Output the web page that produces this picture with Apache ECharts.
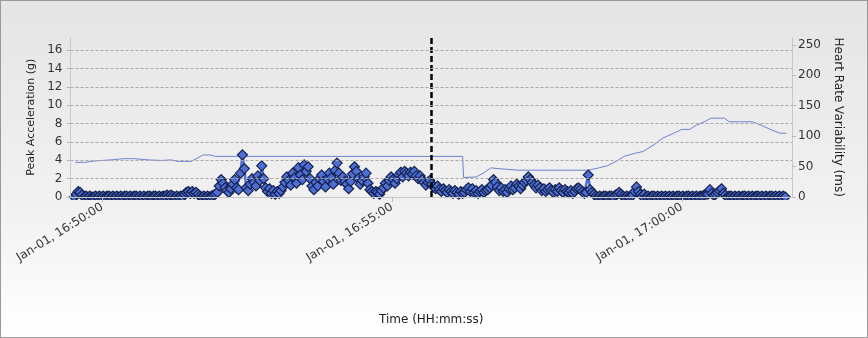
<!DOCTYPE html>
<html>
<head>
<meta charset="utf-8">
<script src="https://cdn.jsdelivr.net/npm/echarts@6/dist/echarts.min.js"></script>
<style>
html,body{margin:0;padding:0;background:#fff;}
#c{width:868px;height:338px;box-sizing:border-box;border:1px solid #9a9a9a;}
</style>
</head>
<body>
<div id="c"></div>
<script>
// Time base: seconds relative to Jan-01 16:50:00
const baseLabel = 'Jan-01';
const accelStart = -29;      // first sample (s)
const accelStep = 2;         // sampling interval (s)
// Peak acceleration (g), one value per sample
const peakAccel = [
 0.0,0.3,0.6,0.5,0.2,
 0.0,0.1,0.0,0.1,0.0,0.0,0.1,0.0,0.1,0.0, 0.1,0.0,0.1,0.1,0.0,0.1,0.0,0.1,0.0,0.1,
 0.0,0.1,0.1,0.0,0.1,0.0,0.1,0.1,0.0,0.1, 0.0,0.1,0.0,0.1,0.1,0.0,0.1,0.1,0.0,0.1,
 0.0,0.1,0.1,0.2,0.1,0.2,0.1,0.0,0.1,0.0, 0.1,0.0,
 0.3,0.5,0.6,0.4,0.6,0.4,0.5,0.3,0.1,
 0.0,0.1,0.0,0.1,0.0,0.1,0.2,0.3,
 0.5,1.2,1.9,1.5,1.0,0.7,0.5,0.9,1.4,1.9,
 1.0,0.8,2.6,4.6,3.1,1.0,0.7,1.4,2.0,1.6,
 1.2,2.3,1.8,3.4,2.0,1.0,0.6,0.9,0.4,0.7,
 0.3,0.6,0.4,0.7,1.1,1.6,2.2,1.8,1.3,2.6,
 2.1,1.5,3.2,2.4,1.9,3.5,2.8,3.3,2.0,1.2,
 0.8,1.6,1.2,2.0,2.4,1.7,1.1,2.0,2.6,2.1,
 1.4,2.9,3.7,2.6,1.8,2.2,1.7,1.4,0.9,1.7,
 2.5,3.3,2.8,2.0,1.4,1.8,2.2,2.6,1.5,0.8,
 0.6,0.4,0.6,0.5,0.3,0.7,1.0,1.5,1.2,1.8,
 2.2,1.9,1.5,2.0,2.4,2.7,2.2,2.8,2.6,2.3,
 2.7,2.5,2.8,2.3,2.0,2.3,1.9,1.6,1.3,1.6,
 1.8,1.4,
 1.1,0.9,1.2,0.8,0.6,0.9,0.7,0.5,0.8,0.6,0.4,0.7,0.5,0.3,0.6,0.4,0.5,0.8,1.0,
 0.6,0.9,0.5,0.7,0.4,0.6,0.8,0.5,0.7,0.8,1.0,1.3,1.9,1.6,1.1,
 0.7,1.0,0.6,0.8,0.5,0.9,1.2,0.8,1.0,1.4,
 1.2,0.9,1.3,1.6,1.8,2.2,1.9,1.6,1.3,1.0,
 1.3,1.0,0.7,0.9,0.6,0.8,1.0,0.7,0.5,0.8,
 0.6,1.0,0.7,0.5,0.8,0.6,
 0.5,0.7,0.4,0.6,0.9,1.0,0.8,0.6,0.4,0.5,2.4,0.8,0.5,
 0.3,0.1,0.0,0.1,0.0,0.1,0.1,0.0,0.1,0.1,0.0,0.2,0.3,
 0.5,0.3,0.1,0.0,0.1,0.0,0.1,0.2,
 0.6,1.1,0.6,0.3,0.1,0.3,
 0.0,0.1,0.0,0.1,0.1,0.0,0.1,0.0,0.1,0.0, 0.1,0.0,0.1,0.0,0.1,0.0,0.1,0.1,0.0,0.1,
 0.0,0.1,0.1,0.0,0.1,0.0,0.1,0.0,0.1,0.1, 0.2,0.3,
 0.3,0.8,0.4,0.2,0.3,0.5,0.7,0.9,0.4,0.2,
 0.0,0.1,0.1,0.0,0.1,0.0,0.1,0.0,0.1,0.1, 0.0,0.1,0.0,0.1,0.0,0.1,0.1,0.0,0.1,0.0,
 0.1,0.0,0.1,0.1,0.0,0.1,0.0,0.1,0.0,0.1, 0.0
];
// Heart rate variability (ms) breakpoints
const hrvTimes = [-28,-17,-12,-1,9,22,33,47,61,71,78,92,99,104,112,117,373,374,387,395,402,415,431,503,514,523,532,540,552,560,573,580,590,600,608,615,625,630,644,649,673,682,693,702,708];
const hrvValues = [57,57,58.5,60,61,63,63,61,60,61,58.5,58.5,64.5,69,69,66.7,66.7,32,33,39.7,47.8,46,44,44,47.8,51.5,58.5,66.7,72,74.8,88,96.6,103.6,111,111,118,125,129.5,129.5,123.6,123.6,118,110,104.7,104.7];
// Event marker time (s)
const markerTime = 340;
// Axis ticks
const xTickSeconds = [0, 300, 600];
const xMin = -33, xMax = 714;

function fmt(t){
  const total = 16*3600 + 50*60 + t;
  const h = Math.floor(total/3600), m = Math.floor((total%3600)/60), s = total%60;
  const p = n => String(n).padStart(2,'0');
  return baseLabel + ', ' + p(h) + ':' + p(m) + ':' + p(s);
}

const accelData = peakAccel.map((v,i)=>[accelStart + i*accelStep, v]);
const hrvData = hrvTimes.map((t,i)=>[t, hrvValues[i]]);

const font = 'DejaVu Sans';
const chart = echarts.init(document.getElementById('c'));
chart.setOption({
  animation:false,
  backgroundColor:{type:'linear',x:0,y:0,x2:0,y2:1,colorStops:[
    {offset:0,color:'#e5e5e5'},{offset:0.6,color:'#f1f1f1'},{offset:1,color:'#ffffff'}]},
  grid:{left:69.5,right:75,top:36.5,bottom:140},
  graphic:[{
    type:'rect', z:4, silent:true,
    shape:{x:70,y:199,width:723,height:6},
    style:{fill:'#f1f1f1'}
  }],
  xAxis:{
    type:'value', min:xMin, max:xMax, z:10,
    name:'Time (HH:mm:ss)', nameLocation:'middle', nameGap:117,
    nameTextStyle:{color:'#222',fontFamily:font,fontSize:12},
    axisLine:{show:true,onZero:false,lineStyle:{color:'#c8c8c8'}},
    axisTick:{show:true,customValues:xTickSeconds,length:5,lineStyle:{color:'#bbb'}},
    axisLabel:{customValues:xTickSeconds,rotate:32,formatter:fmt,color:'#333',fontFamily:font,fontSize:12,margin:9},
    splitLine:{show:false}
  },
  yAxis:[{
    type:'value', min:0, max:17.4, interval:2, z:10,
    name:'Peak Acceleration (g)', nameLocation:'middle', nameGap:33,
    nameTextStyle:{color:'#222',fontFamily:font,fontSize:11},
    axisLine:{show:true,onZero:false,lineStyle:{color:'#c8c8c8'}},
    axisTick:{show:true,length:4,lineStyle:{color:'#bbb'}},
    axisLabel:{showMaxLabel:false,color:'#333',fontFamily:font,fontSize:12,margin:8},
    splitLine:{show:true,showMaxLine:false,showMinLine:false,lineStyle:{color:'#a8a8a8',type:[3,2],width:1}}
  },{
    type:'value', min:0, max:262, interval:50, position:'right', z:10,
    name:'Heart Rate Variability (ms)', nameLocation:'middle', nameGap:36, nameRotate:-90,
    nameTextStyle:{color:'#222',fontFamily:font,fontSize:12},
    axisLine:{show:true,onZero:false,lineStyle:{color:'#c8c8c8'}},
    axisTick:{show:true,length:4,lineStyle:{color:'#bbb'}},
    axisLabel:{showMaxLabel:false,color:'#333',fontFamily:font,fontSize:12,margin:6},
    splitLine:{show:false}
  }],
  series:[{
    type:'line', yAxisIndex:1, data:hrvData, symbol:'none',
    lineStyle:{color:'#6e82d2',width:1}, z:2
  },{
    type:'line', yAxisIndex:0, data:accelData,
    symbol:'diamond', symbolSize:10,
    lineStyle:{color:'#4d6fd4',width:2.5},
    itemStyle:{color:'#4d6fd4',borderColor:'#16224f',borderWidth:1.2},
    z:3,
    markLine:{symbol:'none',silent:true,label:{show:false},
      lineStyle:{color:'#000',type:[6,3],width:2.5},
      data:[{xAxis:markerTime}]}
  }]
});
</script>
</body>
</html>
